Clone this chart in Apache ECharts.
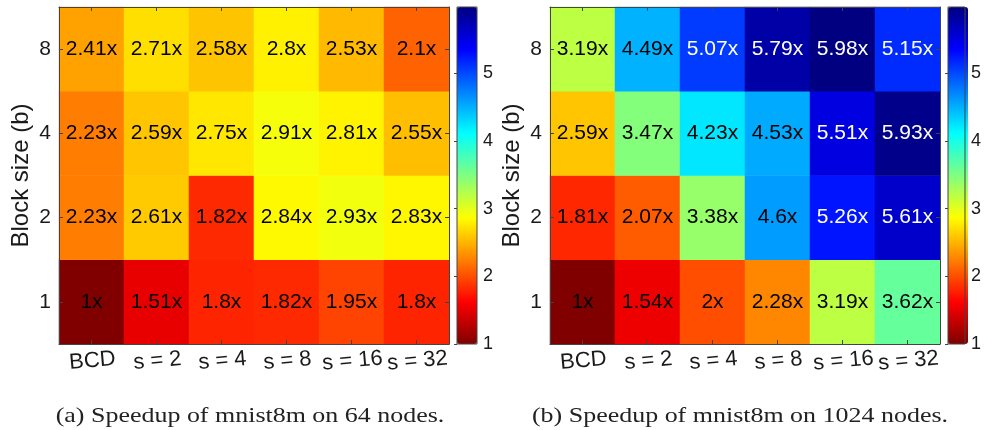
<!doctype html>
<html>
    <head>
        <meta charset="utf-8">
        <title>mnist8m speedup heatmaps</title>
        <style>
            html, body { margin: 0; padding: 0; background: #fff; }
            #main { width: 984px; height: 430px; }
        </style>
    </head>
    <body>
        <div id="main"></div>
        <script src="https://cdn.jsdelivr.net/npm/echarts@6/dist/echarts.min.js"></script>
        <script>

            var xCats = ['BCD', 's = 2', 's = 4', 's = 8', 's = 16', 's = 32'];
            var yCats = ['1', '2', '4', '8'];

            // rows from b = 1 up to b = 8
            var speed64 = [
                [1, 1.51, 1.8, 1.82, 1.95, 1.8],
                [2.23, 2.61, 1.82, 2.84, 2.93, 2.83],
                [2.23, 2.59, 2.75, 2.91, 2.81, 2.55],
                [2.41, 2.71, 2.58, 2.8, 2.53, 2.1]
            ];
            var speed1024 = [
                [1, 1.54, 2, 2.28, 3.19, 3.62],
                [1.81, 2.07, 3.38, 4.6, 5.26, 5.61],
                [2.59, 3.47, 4.23, 4.53, 5.51, 5.93],
                [3.19, 4.49, 5.07, 5.79, 5.98, 5.15]
            ];
            var captions = ['(a) Speedup of mnist8m on 64 nodes.', '(b) Speedup of mnist8m on 1024 nodes.'];
            var cMin = 1, cMax = 5.98;

            // flipped jet
            var jetR = ['#800000', '#ff0000', '#ff8000', '#ffff00', '#80ff80', '#00ffff', '#0080ff', '#0000ff', '#000080'];

            var font = "'Liberation Sans', Arial, sans-serif";
            var lineCol = '#444';
            var txtCol = '#1a1a1a';

            function cells(rows) {
                var out = [];
                rows.forEach(function (row, yi) {
                    row.forEach(function (v, xi) {
                        out.push({ value: [xi, yi, v], label: { color: v >= 5 ? '#fff' : '#000' } });
                    });
                });
                return out;
            }

            var plotLefts = [59, 550];
            var barLefts = [457, 948];
            var gTop = 7, gH = 337, gW = 390;

            var grids = [], xAxes = [], yAxes = [], series = [], visualMaps = [];

            plotLefts.forEach(function (left, k) {
                grids.push({ left: left, top: gTop, width: gW, height: gH });
                var gi = grids.length - 1;
                var tick = { show: true, inside: true, length: 4, alignWithLabel: true, lineStyle: { color: lineCol } };
                var line = { show: true, lineStyle: { color: lineCol, width: 1 } };
                xAxes.push({
                    type: 'category', gridIndex: gi, data: xCats, z: 10,
                    axisLine: line, axisTick: tick, splitArea: { show: false },
                    axisLabel: { fontSize: 22, fontFamily: font, color: txtCol, rotate: 5, align: 'center', verticalAlign: 'top', margin: 6, interval: 0 }
                });
                xAxes.push({
                    type: 'category', gridIndex: gi, data: xCats, position: 'top', z: 10,
                    axisLine: line, axisTick: tick, axisLabel: { show: false }
                });
                yAxes.push({
                    type: 'category', gridIndex: gi, data: yCats, z: 10,
                    name: 'Block size (b)', nameLocation: 'middle', nameGap: 26,
                    nameTextStyle: { fontSize: 24, fontFamily: font, color: txtCol },
                    axisLine: line, axisTick: tick, splitArea: { show: false },
                    axisLabel: { fontSize: 21, fontFamily: font, color: txtCol, margin: 8 }
                });
                yAxes.push({
                    type: 'category', gridIndex: gi, data: yCats, position: 'right', z: 10,
                    axisLine: line, axisTick: tick, axisLabel: { show: false }
                });
                series.push({
                    type: 'heatmap',
                    xAxisIndex: xAxes.length - 2,
                    yAxisIndex: yAxes.length - 2,
                    data: cells(k === 0 ? speed64 : speed1024),
                    itemStyle: { borderWidth: 0 },
                    label: {
                        show: true, fontSize: 21, fontFamily: font,
                        formatter: function (p) { return p.value[2] + 'x'; }
                    },
                    emphasis: { disabled: true }
                });
            });

            // colour bars: visualMap strip plus an axis overlay for the ticks
            barLefts.forEach(function (left, k) {
                visualMaps.push({
                    type: 'continuous', seriesIndex: k, min: cMin, max: cMax,
                    calculable: false, hoverLink: false,
                    left: left, top: gTop, itemWidth: 20, itemHeight: gH, padding: 0,
                    inRange: { color: jetR }
                });
                grids.push({ left: left, top: gTop, width: 20, height: gH, show: true, z: 6,
                    backgroundColor: 'transparent', borderColor: lineCol, borderWidth: 1 });
                var gi = grids.length - 1;
                xAxes.push({ type: 'value', gridIndex: gi, show: false, min: 0, max: 1 });
                yAxes.push({
                    type: 'value', gridIndex: gi, position: 'right', min: cMin, max: cMax, interval: 1, z: 10,
                    axisLine: { show: false }, splitLine: { show: false },
                    axisTick: { show: true, inside: true, length: 3, lineStyle: { color: lineCol } },
                    axisLabel: { fontSize: 18, fontFamily: font, color: txtCol, margin: 6, showMaxLabel: false }
                });
            });

            var capFont = "22px 'Liberation Serif', serif";

            var myChart = echarts.init(document.getElementById('main'));

            var option = {
                animation: false,
                grid: grids,
                xAxis: xAxes,
                yAxis: yAxes,
                visualMap: visualMaps,
                series: series,
                graphic: [
                    { type: 'text', x: 250, y: 416, scaleX: 1.18, style: { text: captions[0], font: capFont, fill: '#222', textAlign: 'center', textVerticalAlign: 'middle' } },
                    { type: 'text', x: 740, y: 416, scaleX: 1.18, style: { text: captions[1], font: capFont, fill: '#222', textAlign: 'center', textVerticalAlign: 'middle' } }
                ]
            };

            myChart.setOption(option);

        </script>
    </body>
</html>
